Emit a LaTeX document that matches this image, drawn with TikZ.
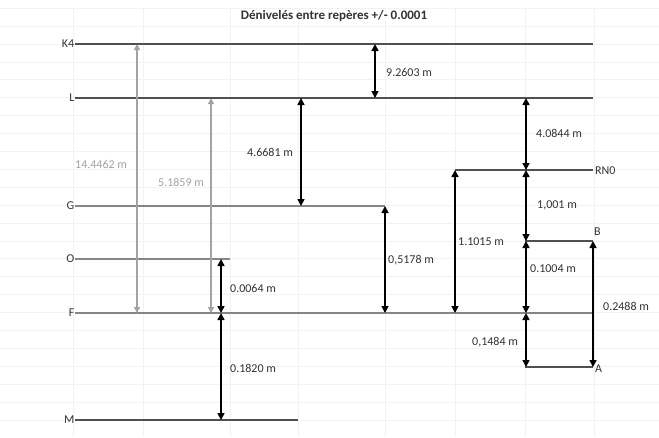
\documentclass[tikz,border=0pt]{standalone}
\usepackage{fontspec}
\setmainfont{Carlito}
\usetikzlibrary{arrows.meta}
\definecolor{dk}{HTML}{505050}
\definecolor{md}{HTML}{858585}
\definecolor{lg}{HTML}{A3A3A3}
\definecolor{grd}{HTML}{F2F2F2}
\definecolor{txt}{HTML}{333333}
\begin{document}
\begin{tikzpicture}[x=1pt,y=-1pt,
  font=\fontsize{12}{14}\selectfont,
  lvl/.style={inner sep=0.5pt,anchor=east,text=txt},
  dkline/.style={draw=dk,line width=1.3pt},
  mdline/.style={draw=md,line width=1.3pt},
  blk/.style={draw=black,line width=1.6pt,{Triangle[width=7pt,length=7pt]}-{Triangle[width=7pt,length=7pt]}},
  gry/.style={draw=lg,line width=1.3pt,{Triangle[width=6pt,length=6pt]}-{Triangle[width=6pt,length=6pt]}},
  lab/.style={inner sep=0pt,anchor=west,text=txt},
  glab/.style={inner sep=0pt,anchor=west,text=lg},
  ptlab/.style={inner sep=0pt,anchor=west,text=txt}
]
\useasboundingbox (0,0) rectangle (659,437);
\fill[white] (0,0) rectangle (659,437);
% faint spreadsheet grid
\foreach \x in {73,143,230,298,385,455,525,594}
  \draw[grd,line width=0.8pt] (\x,8) -- (\x,437);
\foreach \k in {-2,...,21}
  \draw[grd,line width=0.8pt] (0,44+17.905*\k) -- (659,44+17.905*\k);

% title
\node[font=\bfseries\fontsize{13}{15}\selectfont,text=txt] (title) at (334,16) {Dénivelés entre repères +/- 0.0001};

% level labels
\node[lvl] (K4) at (75,44) {K4};
\node[lvl] (L) at (75,98) {L};
\node[lvl] (G) at (75,206) {G};
\node[lvl] (O) at (75,259) {O};
\node[lvl] (F) at (75,313) {F};
\node[lvl] (M) at (75,420) {M};

% level line ends
\coordinate (K4e) at (593,44);
\coordinate (Le) at (593,98);
\coordinate (Ge) at (385,206);
\coordinate (Oe) at (230,259);
\coordinate (Fe) at (593,313);
\coordinate (Me) at (298,420);
\coordinate (RNs) at (455,170);
\coordinate (RNe) at (593,170);
\coordinate (Bs) at (525,241);
\coordinate (Be) at (593,241);
\coordinate (As) at (525,367);
\coordinate (Ae) at (593,367);

\draw[dkline] (K4.east) -- (K4e);
\draw[dkline] (L.east) -- (Le);
\draw[mdline] (G.east) -- (Ge);
\draw[mdline] (O.east) -- (Oe);
\draw[mdline] (F.east) -- (Fe);
\draw[dkline] (M.east) -- (Me);
\draw[dkline] (RNs) -- (RNe);
\draw[dkline] (Bs) -- (Be);
\draw[dkline] (As) -- (Ae);

\node[ptlab] (RN0) at (595,171) {RN0};
\node[ptlab] (Bl) at (594,232) {B};
\node[ptlab] (Al) at (595,369) {A};

% arrow end coordinates
\coordinate (g1a) at (137,44);  \coordinate (g1b) at (137,313);
\coordinate (g2a) at (211,98);  \coordinate (g2b) at (211,313);
\coordinate (b1a) at (375,44);  \coordinate (b1b) at (375,98);
\coordinate (b2a) at (301,98);  \coordinate (b2b) at (301,206);
\coordinate (b3a) at (385,206); \coordinate (b3b) at (385,313);
\coordinate (b4a) at (455,170); \coordinate (b4b) at (455,313);
\coordinate (b5a) at (526,98);  \coordinate (b5b) at (526,170);
\coordinate (b6a) at (526,170); \coordinate (b6b) at (526,241);
\coordinate (b7a) at (526,241); \coordinate (b7b) at (526,313);
\coordinate (b8a) at (526,313); \coordinate (b8b) at (526,367);
\coordinate (b9a) at (593,241); \coordinate (b9b) at (593,367);
\coordinate (b10a) at (221,259); \coordinate (b10b) at (221,313);
\coordinate (b11a) at (221,313); \coordinate (b11b) at (221,420);

\draw[gry] (g1a) -- (g1b);
\draw[gry] (g2a) -- (g2b);
\draw[blk] (b1a) -- (b1b);
\draw[blk] (b2a) -- (b2b);
\draw[blk] (b3a) -- (b3b);
\draw[blk] (b4a) -- (b4b);
\draw[blk] (b5a) -- (b5b);
\draw[blk] (b6a) -- (b6b);
\draw[blk] (b7a) -- (b7b);
\draw[blk] (b8a) -- (b8b);
\draw[blk] (b9a) -- (b9b);
\draw[blk] (b10a) -- (b10b);
\draw[blk] (b11a) -- (b11b);

% distance labels
\node[glab] (d1) at (75,164) {14.4462 m};
\node[glab] (d2) at (158,182) {5.1859 m};
\node[lab] (d3) at (386,72) {9.2603 m};
\node[lab] (d4) at (247,152) {4.6681 m};
\node[lab] (d5) at (388,260) {0,5178 m};
\node[lab] (d6) at (458,242) {1.1015 m};
\node[lab] (d7) at (536,133) {4.0844 m};
\node[lab] (d8) at (537,205) {1,001 m};
\node[lab] (d9) at (530,269) {0.1004 m};
\node[lab] (d10) at (472,342) {0,1484 m};
\node[lab] (d11) at (603,306) {0.2488 m};
\node[lab] (d12) at (230,288) {0.0064 m};
\node[lab] (d13) at (230,368) {0.1820 m};
\end{tikzpicture}
\end{document}
